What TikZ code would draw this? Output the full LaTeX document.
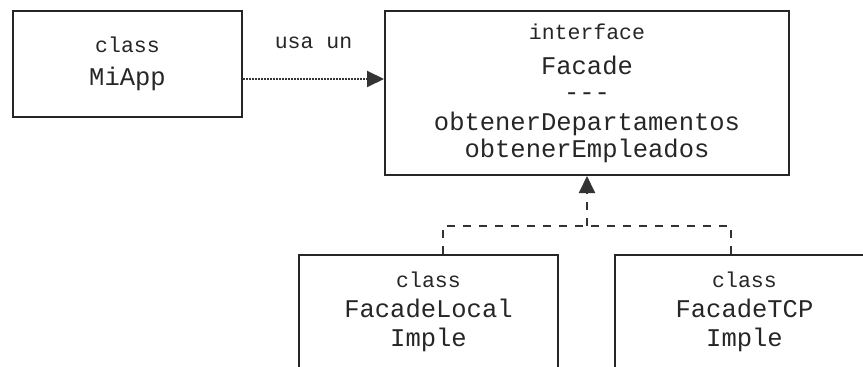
\documentclass[tikz,border=0pt]{standalone}
\usepackage{fontspec}
\setmonofont{Liberation Mono}
\usepackage{tikz}
\usetikzlibrary{positioning, arrows.meta, calc}

\newcommand{\smalltxt}[1]{{\fontsize{21.5}{30}\selectfont #1}}

\begin{document}
\begin{tikzpicture}[x=1pt, y=-1pt,
        box/.style={draw=black!85, line width=2pt, align=center, inner sep=0pt,
            text=black!85, font=\ttfamily\fontsize{25.5}{30}\selectfont},
        usaline/.style={draw=black!80, line width=2pt, dash pattern=on 1.5pt off 1.5pt,
            -{Triangle[length=17pt, width=16pt]}},
        implline/.style={draw=black!80, line width=2pt, dash pattern=on 8pt off 8pt}]

        % picture frame
        \useasboundingbox (0,0) rectangle (863,367);
        \clip (0,0) rectangle (863,367);

        % classes and interface
        \node[box, minimum width=229pt, minimum height=106pt] (miapp) at (127.5,64)
            {\smalltxt{class}\\[3pt] MiApp};
        \node[box, minimum width=404pt, minimum height=164pt] (facade) at (587,93)
            {\smalltxt{interface}\\[5pt] Facade\\[-4pt] ---\\ obtenerDepartamentos\\[-3pt] obtenerEmpleados};
        \node[box, minimum width=259pt, minimum height=114pt] (local) at (428.5,312)
            {\smalltxt{class}\\ FacadeLocal\\[-1pt] Imple};
        \node[box, minimum width=259pt, minimum height=114pt] (tcp) at (744.5,312)
            {\smalltxt{class}\\ FacadeTCP\\[-1pt] Imple};

        % usa un
        \draw[usaline] ([yshift=-15pt]miapp.east) -- ([yshift=-15pt]miapp.east -| facade.west)
            node[midway, above=29pt, inner sep=0pt, text=black!85,
                font=\ttfamily\fontsize{21.5}{30}\selectfont] {usa un};

        % implementations
        \coordinate[below=50pt of facade.south] (join);
        \draw[implline] ([xshift=14.5pt]local.north) -- ([xshift=14.5pt]local.north |- join)
            -- ([xshift=-13.5pt]tcp.north |- join) -- ([xshift=-13.5pt]tcp.north);
        \draw[implline, -{Triangle[length=17pt, width=16pt]}] (join) -- (facade.south);
\end{tikzpicture}
\end{document}
